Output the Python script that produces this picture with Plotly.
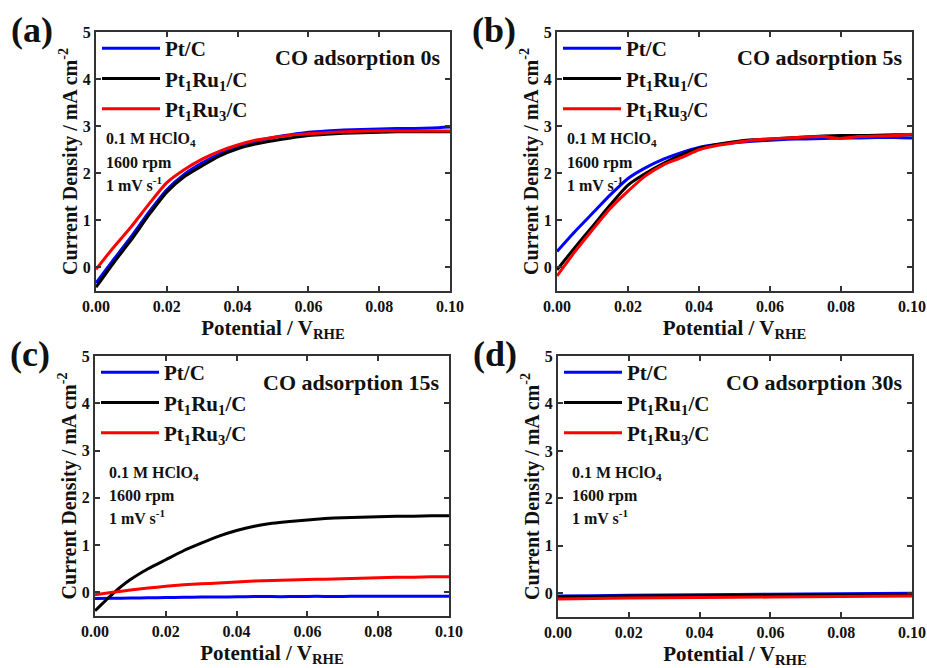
import plotly.graph_objects as go

W, H = 927, 668

# ---------------- data ----------------
x_grid = [0.0, 0.005, 0.01, 0.015, 0.02, 0.025, 0.03, 0.035, 0.04, 0.045, 0.05,
          0.055, 0.06, 0.065, 0.07, 0.075, 0.08, 0.085, 0.09, 0.095, 0.1]

a_pt = [-0.33, 0.17, 0.66, 1.18, 1.65, 1.98, 2.22, 2.42, 2.57, 2.68, 2.76,
        2.82, 2.87, 2.90, 2.92, 2.93, 2.94, 2.95, 2.95, 2.96, 2.98]
a_ru1 = [-0.42, 0.10, 0.59, 1.12, 1.60, 1.93, 2.16, 2.37, 2.52, 2.62, 2.69,
         2.75, 2.80, 2.83, 2.85, 2.86, 2.87, 2.88, 2.88, 2.88, 2.88]
a_ru3 = [-0.04, 0.43, 0.87, 1.35, 1.80, 2.08, 2.30, 2.47, 2.60, 2.70, 2.76,
         2.81, 2.84, 2.86, 2.88, 2.89, 2.90, 2.90, 2.90, 2.90, 2.90]

b_pt = [0.34, 0.76, 1.15, 1.54, 1.89, 2.12, 2.30, 2.44, 2.55, 2.61, 2.65,
        2.68, 2.70, 2.72, 2.73, 2.74, 2.75, 2.75, 2.76, 2.76, 2.75]
b_ru1 = [-0.05, 0.42, 0.87, 1.33, 1.75, 2.00, 2.21, 2.39, 2.53, 2.61, 2.67,
         2.71, 2.73, 2.75, 2.77, 2.79, 2.80, 2.80, 2.81, 2.82, 2.82]
b_ru3 = [-0.18, 0.33, 0.80, 1.25, 1.62, 1.95, 2.18, 2.33, 2.50, 2.59, 2.65,
         2.70, 2.73, 2.75, 2.77, 2.78, 2.74, 2.78, 2.79, 2.80, 2.83]

c_pt = [-0.13, -0.125, -0.12, -0.115, -0.11, -0.105, -0.10, -0.10, -0.095, -0.09, -0.09,
        -0.09, -0.085, -0.085, -0.085, -0.08, -0.08, -0.08, -0.08, -0.08, -0.08]
c_ru1 = [-0.39, -0.03, 0.27, 0.50, 0.69, 0.88, 1.04, 1.19, 1.31, 1.40, 1.46,
         1.50, 1.53, 1.56, 1.58, 1.59, 1.60, 1.61, 1.61, 1.62, 1.62]
c_ru3 = [-0.05, 0.00, 0.05, 0.09, 0.13, 0.16, 0.18, 0.20, 0.22, 0.24, 0.25,
         0.26, 0.27, 0.28, 0.29, 0.30, 0.31, 0.32, 0.32, 0.33, 0.33]

x_d = [0.0, 0.01, 0.02, 0.04, 0.06, 0.08, 0.1]
d_pt = [-0.06, -0.05, -0.04, -0.03, -0.02, -0.01, 0.0]
d_ru1 = [-0.08, -0.07, -0.06, -0.05, -0.04, -0.035, -0.03]
d_ru3 = [-0.12, -0.11, -0.10, -0.09, -0.08, -0.07, -0.06]

series_names = ["Pt/C", "Pt<sub>1</sub>Ru<sub>1</sub>/C", "Pt<sub>1</sub>Ru<sub>3</sub>/C"]
series_colors = ["#0000FF", "#000000", "#FF0000"]
panel_labels = ["(a)", "(b)", "(c)", "(d)"]
panel_titles = ["CO adsorption 0s", "CO adsorption 5s", "CO adsorption 15s", "CO adsorption 30s"]
cond_lines = ["0.1 M HClO<sub>4</sub>", "1600 rpm", "1 mV s<sup>-1</sup>"]
x_ticks = [0.0, 0.02, 0.04, 0.06, 0.08, 0.10]
y_ticks = [0, 1, 2, 3, 4, 5]

panels = [
    (x_grid, [a_pt, a_ru1, a_ru3]),
    (x_grid, [b_pt, b_ru1, b_ru3]),
    (x_grid, [c_pt, c_ru1, c_ru3]),
    (x_d, [d_pt, d_ru1, d_ru3]),
]

# ---------------- layout geometry (pixels) ----------------
# plot boxes: left, right, top, bottom
boxes = [(96, 450, 32, 291), (557, 912, 32, 291), (95, 449, 356, 616), (558, 912, 356, 617)]

def px(x):
    return x / W

def py(y):
    return 1 - y / H

FONT = "Liberation Serif"

fig = go.Figure()
legend_ids = ["legend", "legend2", "legend3", "legend4"]
layout = dict(
    template="none",
    width=W, height=H, margin=dict(l=0, r=0, t=0, b=0, autoexpand=False),
    paper_bgcolor="white", plot_bgcolor="white",
    font=dict(family=FONT, color="#111", weight="bold"),
    annotations=[],
)

for i, ((xs, ys_list), box) in enumerate(zip(panels, boxes)):
    l, r, t, b = box
    sfx = "" if i == 0 else str(i + 1)
    xa, ya = "x" + sfx, "y" + sfx
    for name, col, ys in zip(series_names, series_colors, ys_list):
        fig.add_trace(go.Scatter(
            x=xs, y=ys, mode="lines", name=name, xaxis=xa, yaxis=ya,
            line=dict(color=col, width=3, shape="spline", smoothing=0.6),
            legend=legend_ids[i], showlegend=True,
        ))
    axis_common = dict(
        showgrid=False, zeroline=False, showline=True, linecolor="#333", linewidth=2,
        mirror="ticks", ticks="inside", ticklen=5, tickwidth=1.5, tickcolor="#333",
        automargin=False,
        tickfont=dict(family=FONT, size=16, color="#111", weight="bold"),
    )
    layout["xaxis" + sfx] = dict(
        axis_common, domain=[px(l), px(r)], range=[0, 0.1], tickvals=x_ticks,
        tickformat=".2f", anchor=ya,
        title=dict(text="Potential / V<sub>RHE</sub>", standoff=6,
                   font=dict(family=FONT, size=21, color="#111", weight="bold")),
    )
    layout["yaxis" + sfx] = dict(
        axis_common, domain=[py(b), py(t)], range=[-0.5, 5], tickvals=y_ticks,
        anchor=xa,
        title=dict(text="Current Density / mA cm<sup>-2</sup>", standoff=0,
                   font=dict(family=FONT, size=20, color="#111", weight="bold")),
    )
    layout[legend_ids[i]] = dict(
        x=px(l + 1), y=py(t - 4), xanchor="left", yanchor="top",
        bgcolor="rgba(0,0,0,0)", borderwidth=0, tracegroupgap=0,
        font=dict(family=FONT, size=21, color="#111", weight="bold"),
        itemwidth=58,
    )
    # panel label
    layout["annotations"].append(dict(
        text=panel_labels[i], x=px(l - 87), y=py(t - 2),
        xref="paper", yref="paper", xanchor="left", yanchor="middle", showarrow=False,
        font=dict(family=FONT, size=36, color="#111", weight="bold"),
    ))
    # CO adsorption title
    layout["annotations"].append(dict(
        text=panel_titles[i], x=px(r - 8), y=py(t + 26),
        xref="paper", yref="paper", xanchor="right", yanchor="middle", showarrow=False,
        font=dict(family=FONT, size=22, color="#111", weight="bold"),
    ))
    # conditions
    cond_dy = [107, 131, 152] if i < 2 else [117, 140, 161]
    for txt, dy in zip(cond_lines, cond_dy):
        layout["annotations"].append(dict(
            text=txt, x=px(l + 8 + (4 if i >= 2 else 0)), y=py(t + dy),
            xref="paper", yref="paper", xanchor="left", yanchor="middle", showarrow=False,
            font=dict(family=FONT, size=16, color="#111", weight="bold"),
        ))

fig.update_layout(**layout)
fig.write_html("out.html", config={"displayModeBar": False},
               post_script="document.body.style.margin='0';document.body.style.overflow='hidden';")
